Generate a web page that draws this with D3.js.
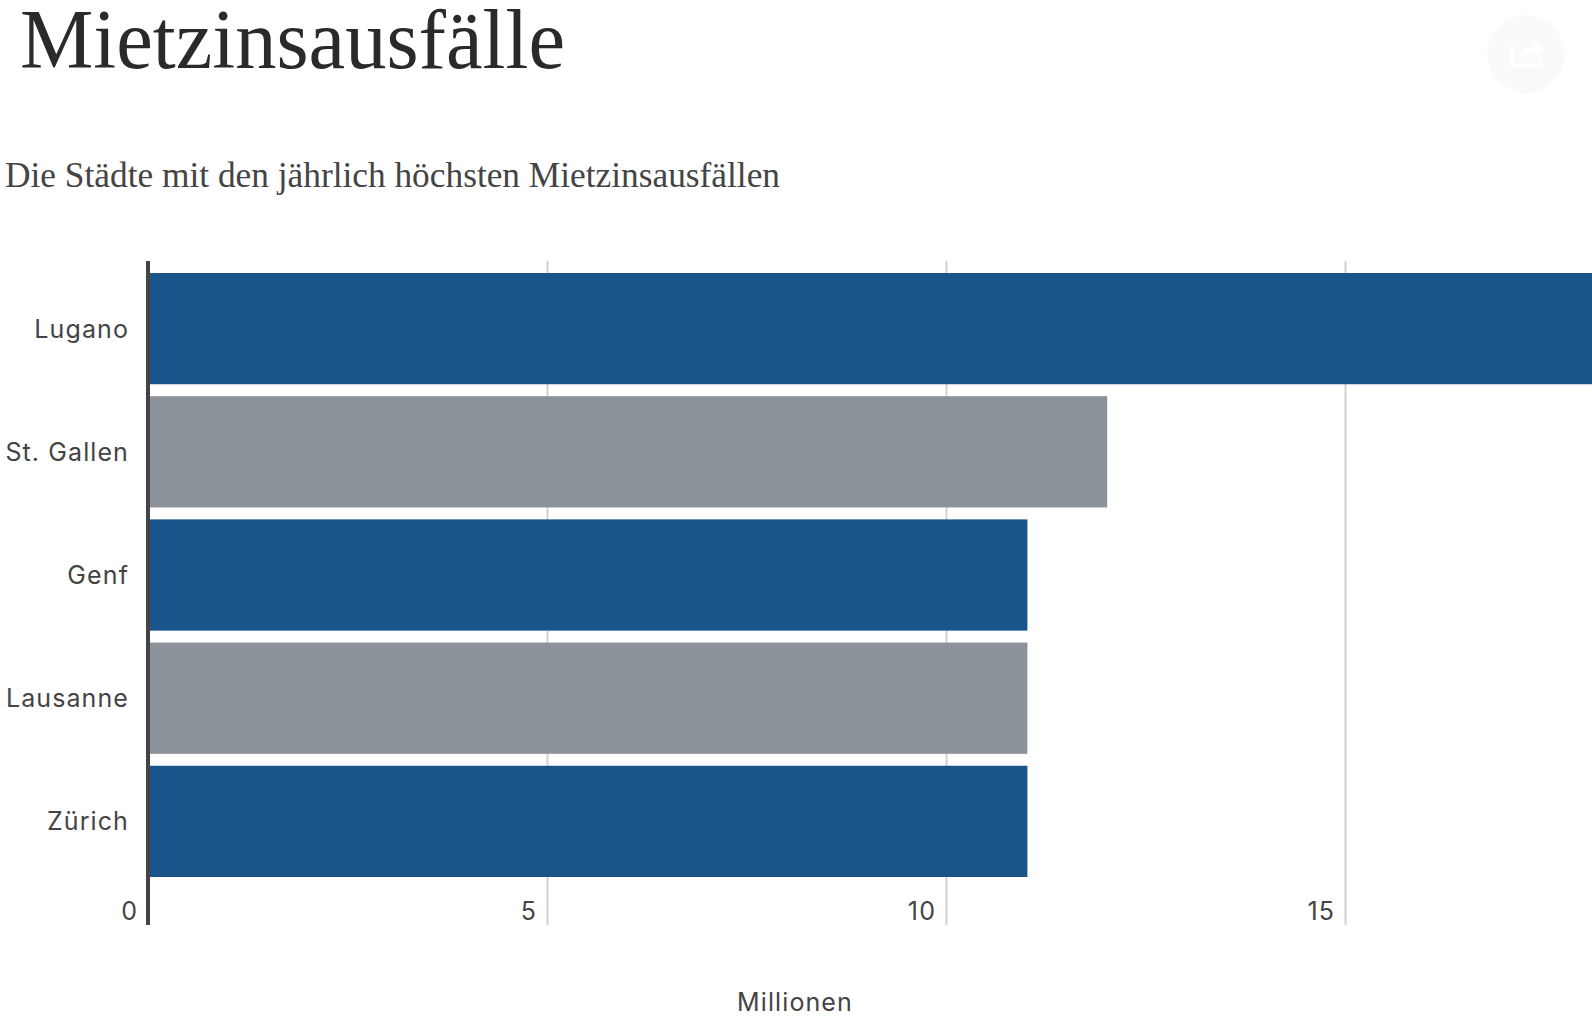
<!DOCTYPE html>
<html>
<head>
<meta charset="utf-8">
<script src="https://cdn.jsdelivr.net/npm/d3@7"></script>
<style>
html, body { margin: 0; padding: 0; background: #fff; overflow: hidden; }
svg { display: block; }
</style>
</head>
<body>
<div id="chart"></div>
<script>
const cities = ['Lugano', 'St. Gallen', 'Genf', 'Lausanne', 'Zürich'];
const values = [18.5, 12.02, 11.02, 11.02, 11.02];
const barColors = ['#19548b', '#8b9299', '#19548b', '#8b9299', '#19548b'];
const tickValues = [0, 5, 10, 15];

const width = 1592, height = 1020;
const labelFont = 'Inter';
const labelSize = 25;
const labelSpacing = 1.1;
const svg = d3.select('#chart').append('svg').attr('width', width).attr('height', height);

const x = d3.scaleLinear().domain([0, 15]).range([148, 1345]);
const y = d3.scaleBand().domain(cities).range([273, 877]).paddingInner(0.097);
const axisTop = 261, axisBottom = 925;

svg.append('text').text('Mietzinsausfälle')
    .attr('x', 20).attr('y', 68)
    .attr('textLength', 545).attr('lengthAdjust', 'spacingAndGlyphs')
    .attr('font-family', 'Liberation Serif').attr('font-size', 84).attr('fill', '#2a2a2a');

svg.append('text').text('Die Städte mit den jährlich höchsten Mietzinsausfällen')
    .attr('x', 5).attr('y', 187)
    .attr('textLength', 775).attr('lengthAdjust', 'spacingAndGlyphs')
    .attr('font-family', 'Liberation Serif').attr('font-size', 36).attr('fill', '#444');

// share button, barely visible
const share = svg.append('g').attr('transform', 'translate(1526,54)');
share.append('circle').attr('r', 39).attr('fill', '#fafafa');
share.append('path')
    .attr('d', 'M-14,-9 V12 H14 V3')
    .attr('fill', 'none').attr('stroke', '#fff').attr('stroke-width', 4);
share.append('path')
    .attr('d', 'M-7,6 C-6,-3 1,-7 7,-7 V-15 L17,-4 L7,6 V0 C2,0 -3,1 -7,6 Z')
    .attr('fill', '#fff');

const grid = svg.append('g')
    .attr('transform', `translate(0,${axisBottom})`)
    .call(d3.axisBottom(x).tickValues(tickValues).tickSize(axisTop - axisBottom).tickFormat(''));
grid.select('.domain').remove();
grid.selectAll('.tick line').attr('stroke', '#d2d2d2').attr('stroke-width', 2);

svg.append('g').selectAll('rect')
    .data(cities)
    .join('rect')
    .attr('x', x(0))
    .attr('y', d => y(d))
    .attr('width', (d, i) => x(values[i]) - x(0))
    .attr('height', y.bandwidth())
    .attr('fill', (d, i) => barColors[i]);

svg.append('line')
    .attr('x1', x(0)).attr('x2', x(0))
    .attr('y1', axisTop).attr('y2', axisBottom)
    .attr('stroke', '#444').attr('stroke-width', 4);

svg.append('g').selectAll('text')
    .data(cities)
    .join('text')
    .text(d => d)
    .attr('x', 129)
    .attr('y', d => y(d) + y.bandwidth() / 2 + 9)
    .attr('text-anchor', 'end')
    .attr('letter-spacing', labelSpacing)
    .attr('font-family', labelFont).attr('font-size', labelSize).attr('fill', '#444');

svg.append('g').selectAll('text')
    .data(tickValues)
    .join('text')
    .text(d => d)
    .attr('x', d => x(d) - 10)
    .attr('y', 920)
    .attr('text-anchor', 'end')
    .attr('letter-spacing', labelSpacing)
    .attr('font-family', labelFont).attr('font-size', labelSize).attr('fill', '#444');

svg.append('text').text('Millionen')
    .attr('x', 795).attr('y', 1011)
    .attr('text-anchor', 'middle')
    .attr('letter-spacing', labelSpacing)
    .attr('font-family', labelFont).attr('font-size', labelSize).attr('fill', '#444');
</script>
</body>
</html>
